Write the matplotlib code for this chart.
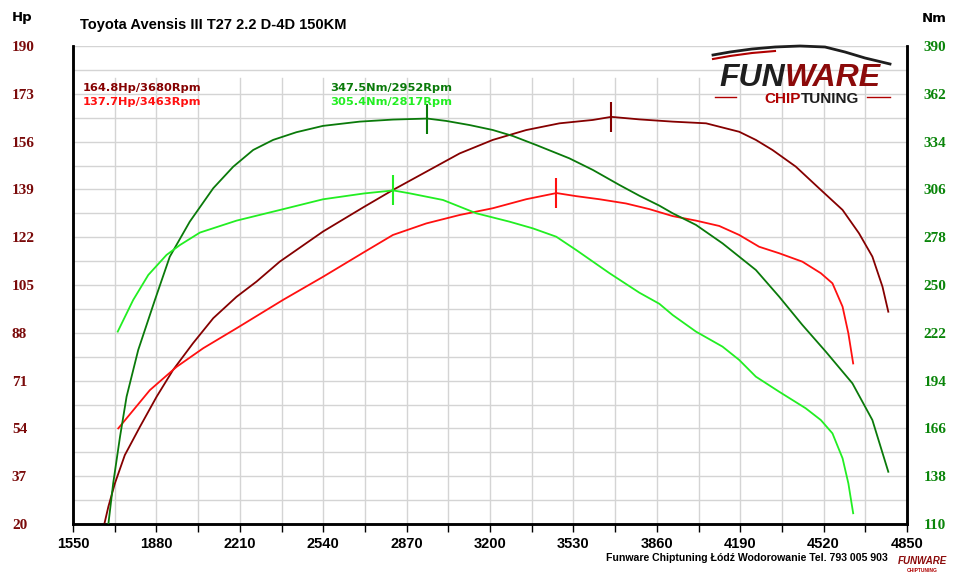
import matplotlib
matplotlib.use("Agg")
import matplotlib.pyplot as plt
from matplotlib.lines import Line2D
import numpy as np

# Dane z wykresu
tuned_hp_rpm = [1674, 1690, 1716, 1755, 1815, 1881, 1946, 2025, 2105, 2197, 2276, 2368, 2539, 2700,
                2816, 2948, 3080, 3211, 3343, 3475, 3607, 3680, 3791, 3923, 4055, 4186, 4252, 4318,
                4410, 4502, 4595, 4660, 4713, 4753, 4776]
tuned_hp = [20, 26.2, 34.5, 44.5, 54.6, 65.3, 74.8, 84.3, 93.2, 100.8, 106.2, 113.3, 124.0, 132.7,
            138.8, 145.3, 151.8, 156.6, 160.1, 162.5, 163.7, 164.8, 163.9, 163.1, 162.5, 159.5, 156.6,
            153.0, 147.1, 139.4, 131.7, 123.4, 115.1, 104.4, 95.5]

stock_hp_rpm = [1729, 1854, 1960, 2065, 2197, 2381, 2539, 2700, 2816, 2948, 3080, 3211, 3343, 3463,
                3541, 3633, 3738, 3830, 3923, 4015, 4107, 4186, 4265, 4344, 4436, 4509, 4555, 4595,
                4618, 4637]
stock_hp = [54.0, 67.6, 75.9, 82.5, 89.6, 99.7, 107.9, 116.6, 122.8, 126.9, 129.9, 132.3, 135.5, 137.7,
            136.6, 135.5, 134.0, 132.0, 129.5, 127.9, 126.0, 122.8, 118.6, 116.3, 113.3, 109.2, 105.6,
            97.3, 87.8, 77.1]

tuned_nm_rpm = [1690, 1709, 1736, 1762, 1808, 1874, 1933, 2012, 2105, 2184, 2263, 2342, 2434, 2539,
                2684, 2816, 2952, 3027, 3119, 3211, 3290, 3383, 3514, 3607, 3712, 3791, 3870, 3923,
                4015, 4120, 4186, 4252, 4344, 4436, 4529, 4634, 4713, 4776]
tuned_nm = [110, 133.8, 161.1, 184.6, 211.9, 241.2, 266.6, 287.1, 306.7, 319.3, 329.1, 335.0, 339.5,
            343.2, 345.7, 346.9, 347.5, 346.1, 343.7, 340.8, 337.3, 332.0, 324.2, 317.4, 308.6, 302.3,
            296.5, 292.0, 285.2, 274.4, 266.6, 258.8, 243.2, 226.6, 210.9, 192.4, 170.9, 140.6]

stock_nm_rpm = [1727, 1788, 1848, 1920, 1973, 2052, 2197, 2381, 2539, 2700, 2817, 2882, 3014, 3146,
                3277, 3369, 3462, 3541, 3673, 3791, 3870, 3923, 4015, 4120, 4186, 4252, 4344, 4449,
                4509, 4555, 4595, 4618, 4637]
stock_nm = [222.7, 241.2, 255.9, 267.6, 273.4, 280.7, 287.7, 294.4, 300.2, 303.6, 305.4, 303.7, 299.8,
            292.0, 287.1, 283.2, 278.3, 270.5, 256.9, 245.5, 239.0, 232.4, 222.7, 213.9, 206.1, 196.3,
            187.5, 177.8, 170.9, 163.1, 148.5, 133.8, 116.3]

# maksima: (obroty, wartosc)
peak_tuned_hp = (3680, 164.8)
peak_stock_hp = (3463, 137.7)
peak_tuned_nm = (2952, 347.5)
peak_stock_nm = (2817, 305.4)

x_ticks = [1550, 1880, 2210, 2540, 2870, 3200, 3530, 3860, 4190, 4520, 4850]
hp_ticks = [20, 37, 54, 71, 88, 105, 122, 139, 156, 173, 190]
nm_ticks = [110, 138, 166, 194, 222, 250, 278, 306, 334, 362, 390]

title = "Toyota Avensis III T27 2.2 D-4D 150KM"
footer = "Funware Chiptuning Łódź Wodorowanie Tel. 793 005 903"

C_TUNED_HP = "#850000"
C_STOCK_HP = "#ff1010"
C_TUNED_NM = "#0a7a0a"
C_STOCK_NM = "#22ee22"
C_LEFT = "#7a0a0a"
C_RIGHT = "#0a850a"

SANS = ["Liberation Sans", "DejaVu Sans"]
SERIF = ["Liberation Serif", "DejaVu Serif"]

fig = plt.figure(figsize=(9.6, 5.84), dpi=100)
W, H = 960, 584
ax = fig.add_axes([73 / W, 1 - 524 / H, (907 - 73) / W, (524 - 46) / H])
ax2 = ax.twinx()

ax.set_xlim(1550, 4850)
ax.set_ylim(20, 190)
ax2.set_ylim(110, 390)

# siatka
ax.set_yticks(hp_ticks)
ax.set_yticks(np.arange(28.5, 190, 17), minor=True)
ax.set_xticks(x_ticks)
ax.set_xticks(np.arange(1715, 4850, 330), minor=True)
ax.grid(axis="y", which="both", color="#d4d4d4", lw=1.0)
for xv in np.arange(1715, 4850, 165):
    ax.axvline(xv, ymax=0.933, color="#d4d4d4", lw=1.0, zorder=0.5)
ax.set_axisbelow(True)

# krzywe
ax.plot(tuned_hp_rpm, tuned_hp, color=C_TUNED_HP, lw=1.3, zorder=3)
ax.plot(stock_hp_rpm, stock_hp, color=C_STOCK_HP, lw=1.3, zorder=3)
ax2.plot(tuned_nm_rpm, tuned_nm, color=C_TUNED_NM, lw=1.3, zorder=3)
ax2.plot(stock_nm_rpm, stock_nm, color=C_STOCK_NM, lw=1.3, zorder=3)

# znaczniki maksimow
ax.plot(*peak_tuned_hp, marker="|", ms=22, mew=1.5, color=C_TUNED_HP)
ax.plot(*peak_stock_hp, marker="|", ms=22, mew=1.5, color=C_STOCK_HP)
ax2.plot(*peak_tuned_nm, marker="|", ms=22, mew=1.5, color=C_TUNED_NM)
ax2.plot(*peak_stock_nm, marker="|", ms=22, mew=1.5, color=C_STOCK_NM)

# osie
for a in (ax, ax2):
    a.spines["top"].set_visible(False)
    for s in ("left", "bottom", "right"):
        a.spines[s].set_linewidth(1.8)
        a.spines[s].set_color("black")

ax.tick_params(axis="x", which="both", direction="out", length=6, width=1.0, pad=3)
ax.set_xticklabels([str(v) for v in x_ticks], family=SANS, fontweight="bold", fontsize=10.5)
ax.tick_params(axis="y", which="both", length=0, pad=44)
ax.set_yticklabels([str(v) for v in hp_ticks], color=C_LEFT, fontweight="bold", fontsize=11,
                   family=SERIF)
for lab in ax.get_yticklabels():
    lab.set_horizontalalignment("left")
ax2.set_yticks(nm_ticks)
ax2.tick_params(axis="y", length=0, pad=12)
ax2.set_yticklabels([str(v) for v in nm_ticks], color=C_RIGHT, fontweight="bold", fontsize=11,
                    family=SERIF)

# opisy
fig.text(12 / W, 1 - 18 / H, "Hp", fontweight="bold", fontsize=9.5, va="center")
fig.text(922 / W, 1 - 18 / H, "Nm", fontweight="bold", fontsize=9.5, va="center")
fig.text(80 / W, 1 - 25 / H, title, fontweight="bold", fontsize=10.5, va="center", family=SANS)

lab_font = dict(fontsize=8.2, fontweight="bold", va="center", family="DejaVu Sans")
fig.text(83 / W, 1 - 88 / H, f"{peak_tuned_hp[1]}Hp/{peak_tuned_hp[0]}Rpm", color=C_TUNED_HP, **lab_font)
fig.text(83 / W, 1 - 102 / H, f"{peak_stock_hp[1]}Hp/{peak_stock_hp[0]}Rpm", color=C_STOCK_HP, **lab_font)
fig.text(330 / W, 1 - 88 / H, f"{peak_tuned_nm[1]}Nm/{peak_tuned_nm[0]}Rpm", color=C_TUNED_NM, **lab_font)
fig.text(330 / W, 1 - 102 / H, f"{peak_stock_nm[1]}Nm/{peak_stock_nm[0]}Rpm", color=C_STOCK_NM, **lab_font)

# logo
fig.text(785 / W, 1 - 86 / H, "FUN", color="#1e1e1e", fontsize=23, fontweight="bold",
         style="italic", ha="right", va="baseline", zorder=5, family=SANS)
fig.text(785 / W, 1 - 86 / H, "WARE", color="#8b0a0a", fontsize=23, fontweight="bold",
         style="italic", ha="left", va="baseline", zorder=5, family=SANS)
fig.text(801 / W, 1 - 103 / H, "CHIP", color="#b00000", fontsize=11, fontweight="bold",
         ha="right", va="baseline", zorder=5, family=SANS)
fig.text(801 / W, 1 - 103 / H, "TUNING", color="#1e1e1e", fontsize=11, fontweight="bold",
         ha="left", va="baseline", zorder=5, family=SANS)
for x0, x1 in ((715, 736), (867, 890)):
    fig.add_artist(Line2D([x0 / W, x1 / W], [1 - 97 / H, 1 - 97 / H], color="#b00000", lw=1))
car_x = np.array([713, 730, 752, 775, 800, 825, 845, 865, 890])
car_y = np.array([55, 52, 49, 47, 46, 47, 52, 58, 64])
fig.add_artist(Line2D(car_x / W, 1 - car_y / H, color="#1e1e1e", lw=2))
fig.add_artist(Line2D(car_x[:4] / W, 1 - (car_y[:4] + 4) / H, color="#b00000", lw=1.5))

# stopka
fig.text(888 / W, 1 - 558 / H, footer, fontsize=7.6, fontweight="bold", ha="right", va="center",
         family=SANS)
fig.text(922 / W, 1 - 561 / H, "FUNWARE", fontsize=7, fontweight="bold", style="italic",
         color="#8b0a0a", ha="center", va="center", family=SANS)
fig.text(922 / W, 1 - 570 / H, "CHIPTUNING", fontsize=3.5, fontweight="bold",
         color="#b00000", ha="center", va="center", family=SANS)

fig.savefig("out.png", dpi=100)
